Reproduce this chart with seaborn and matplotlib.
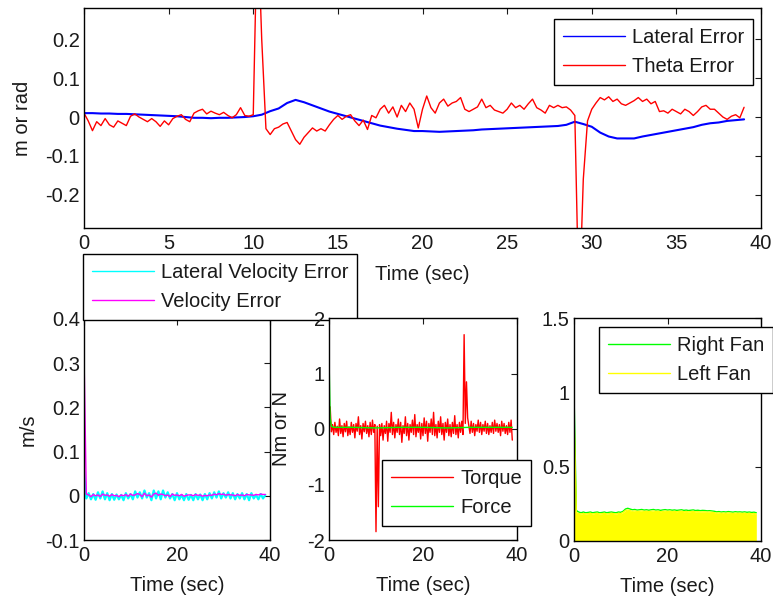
import numpy as np
import matplotlib
matplotlib.use("Agg")
import matplotlib.pyplot as plt
from matplotlib.ticker import FuncFormatter
import seaborn as sns

# ---------------- data ----------------
# top panel: samples every 0.25 s from 0 to 39 s
theta_error = [
    0.010, -0.010, -0.035, -0.012,
    -0.022, -0.004, -0.020, -0.026,
    -0.010, -0.016, -0.022, 0.002,
    0.008, 0.000, -0.006, -0.012,
    -0.004, -0.012, -0.024, -0.010,
    -0.020, -0.004, 0.002, 0.006,
    -0.006, -0.012, 0.010, 0.016,
    0.020, 0.008, 0.015, 0.010,
    0.006, 0.012, 0.004, -0.002,
    0.006, 0.024, 0.004, 0.002,
    0.006, 0.520, 0.200, -0.030,
    -0.045, -0.030, -0.026, -0.018,
    -0.014, -0.036, -0.058, -0.070,
    -0.052, -0.040, -0.028, -0.036,
    -0.030, -0.036, -0.020, -0.006,
    0.004, -0.006, 0.002, 0.006,
    -0.010, -0.022, -0.008, -0.032,
    0.004, -0.002, 0.020, 0.030,
    0.010, 0.026, 0.000, 0.030,
    0.014, 0.036, 0.020, -0.028,
    0.020, 0.054, 0.024, 0.010,
    0.036, 0.046, 0.028, 0.036,
    0.040, 0.050, 0.020, 0.014,
    0.020, 0.026, 0.046, 0.024,
    0.030, 0.018, 0.014, 0.010,
    0.020, 0.036, 0.024, 0.030,
    0.020, 0.034, 0.046, 0.024,
    0.018, 0.010, 0.030, 0.024,
    0.030, 0.024, 0.026, 0.018,
    0.004, -0.500, -0.160, -0.010,
    0.020, 0.036, 0.050, 0.044,
    0.052, 0.040, 0.046, 0.034,
    0.030, 0.036, 0.042, 0.050,
    0.040, 0.046, 0.034, 0.040,
    0.014, 0.016, 0.010, 0.020,
    0.014, 0.008, 0.020, 0.014,
    0.004, 0.014, 0.026, 0.030,
    0.020, 0.020, 0.010, 0.000,
    -0.006, 0.002, 0.006, -0.002,
    0.025,
]

# lateral error, every 0.5 s
lateral_error = [
    0.010, 0.010, 0.009, 0.009, 0.008, 0.008, 0.007, 0.006,
    0.005, 0.004, 0.003, 0.002, 0.000, -0.002, -0.002, -0.003,
    -0.002, -0.002, -0.001, 0.000, 0.002, 0.006, 0.015, 0.022,
    0.036, 0.044, 0.038, 0.030, 0.022, 0.014, 0.008, 0.002,
    -0.004, -0.010, -0.016, -0.022, -0.026, -0.030, -0.033, -0.036,
    -0.036, -0.037, -0.038, -0.037, -0.036, -0.035, -0.034, -0.032,
    -0.031, -0.030, -0.029, -0.028, -0.027, -0.026, -0.025, -0.024,
    -0.023, -0.020, -0.012, -0.018, -0.025, -0.040, -0.050, -0.055,
    -0.055, -0.055, -0.050, -0.046, -0.042, -0.038, -0.034, -0.030,
    -0.026, -0.020, -0.016, -0.014, -0.010, -0.008, -0.006,
]

# velocity errors, every 0.5 s
lat_vel_error = [
    0.055, -0.006, 0.006, -0.008, 0.004, -0.009, 0.008, -0.006,
    0.010, -0.008, 0.006, -0.010, 0.004, -0.009, 0.003, -0.008,
    0.002, -0.010, 0.006, -0.006, 0.004, -0.008, 0.010, -0.004,
    0.008, -0.006, 0.012, -0.004, 0.006, -0.010, 0.012, -0.006,
    0.010, -0.008, 0.012, -0.004, 0.008, -0.006, 0.004, -0.010,
    0.006, -0.008, 0.002, -0.010, 0.004, -0.009, 0.002, -0.010,
    0.004, -0.008, 0.003, -0.010, 0.004, -0.008, 0.006, -0.006,
    0.008, -0.004, 0.010, -0.006, 0.006, -0.004, 0.008, -0.006,
    0.006, -0.008, 0.004, -0.006, 0.006, -0.008, 0.004, -0.010,
    0.006, -0.006, 0.002, -0.008, 0.004, -0.006, 0.002,
]
vel_error = [
    0.320, 0.004, 0.002, -0.002, 0.003, 0.000, 0.002, -0.002,
    0.004, 0.001, 0.002, -0.001, 0.003, 0.000, 0.001, -0.002,
    0.002, 0.000, 0.003, -0.001, 0.004, 0.001, 0.002, 0.005,
    0.003, -0.002, 0.006, 0.000, 0.002, -0.003, 0.004, 0.006,
    0.001, 0.004, 0.003, 0.000, 0.002, -0.002, 0.004, 0.001,
    0.002, 0.000, 0.003, -0.001, 0.001, 0.002, 0.002, 0.000,
    0.003, 0.001, 0.002, -0.001, 0.001, 0.000, 0.002, 0.001,
    0.004, 0.002, 0.005, 0.003, 0.004, 0.001, 0.003, 0.002,
    0.002, 0.000, 0.003, 0.001, 0.002, 0.000, 0.003, 0.002,
    0.002, 0.001, 0.003, 0.002, 0.004, 0.003, 0.003,
]

# torque, every 0.25 s
torque = [
    -0.10, 0.40, -0.05, 0.08,
    -0.10, 0.12, -0.06, 0.05,
    -0.12, 0.18, -0.08, 0.06,
    -0.14, 0.10, -0.05, 0.14,
    -0.12, 0.04, -0.10, 0.12,
    -0.06, 0.08, -0.16, 0.10,
    -0.04, 0.22, -0.10, 0.06,
    -0.18, 0.10, -0.05, 0.14,
    -0.08, 0.06, -0.14, 0.12,
    -0.10, 0.16, -0.06, 0.08,
    -1.85, 0.05, -1.40, 0.08,
    -0.12, 0.10, -0.20, 0.06,
    -0.08, 0.14, -0.22, 0.10,
    -0.06, 0.30, -0.10, 0.12,
    -0.16, 0.08, -0.06, 0.18,
    -0.10, 0.12, -0.24, 0.06,
    -0.08, 0.22, -0.12, 0.10,
    -0.20, 0.08, -0.06, 0.16,
    -0.10, 0.26, -0.14, 0.08,
    -0.06, 0.12, -0.18, 0.10,
    -0.12, 0.20, -0.08, 0.14,
    -0.22, 0.10, -0.06, 0.18,
    -0.10, 0.30, -0.12, 0.08,
    -0.16, 0.14, -0.06, 0.22,
    -0.10, 0.10, -0.20, 0.12,
    -0.06, 0.18, -0.12, 0.08,
    -0.14, 0.12, -0.08, 0.24,
    -0.10, 0.08, -0.16, 0.12,
    -0.06, 0.14, -0.10, 1.70,
    0.10, 0.85, 0.20, 0.06,
    -0.08, 0.14, -0.06, 0.10,
    -0.12, 0.08, -0.04, 0.16,
    -0.06, 0.12, -0.10, 0.08,
    -0.04, 0.14, -0.08, 0.10,
    -0.10, 0.06, -0.06, 0.12,
    -0.08, 0.16, -0.04, 0.10,
    -0.06, 0.08, -0.12, 0.14,
    -0.04, 0.10, -0.08, 0.06,
    -0.10, 0.12, -0.06, 0.16,
    -0.20,
]
force_time = [0.0, 0.25, 0.5, 1.0, 5.0, 10.0, 15.0, 20.0, 25.0, 30.0, 35.0, 39.0]
force = [1.30, 0.20, 0.05, 0.03, 0.03, 0.02, 0.03, 0.03, 0.02, 0.03, 0.03, 0.03]

# fan commands, every 0.5 s
right_fan = [
    1.000, 0.205, 0.195, 0.190, 0.195, 0.190, 0.192, 0.195,
    0.190, 0.193, 0.195, 0.190, 0.192, 0.195, 0.190, 0.193,
    0.195, 0.192, 0.190, 0.195, 0.193, 0.200, 0.215, 0.220,
    0.215, 0.210, 0.212, 0.208, 0.210, 0.212, 0.208, 0.210,
    0.207, 0.210, 0.212, 0.208, 0.210, 0.206, 0.209, 0.211,
    0.208, 0.210, 0.207, 0.209, 0.206, 0.208, 0.210, 0.206,
    0.208, 0.205, 0.207, 0.209, 0.205, 0.207, 0.204, 0.206,
    0.205, 0.203, 0.204, 0.202, 0.200, 0.196, 0.198, 0.195,
    0.197, 0.195, 0.198, 0.196, 0.194, 0.197, 0.195, 0.196,
    0.194, 0.196, 0.193, 0.195, 0.192, 0.194, 0.190,
]
left_fan = [
    0.850, 0.190, 0.185, 0.182, 0.185, 0.182, 0.184, 0.186,
    0.182, 0.185, 0.186, 0.182, 0.184, 0.186, 0.182, 0.184,
    0.186, 0.184, 0.182, 0.186, 0.184, 0.192, 0.205, 0.208,
    0.204, 0.200, 0.202, 0.199, 0.200, 0.202, 0.199, 0.200,
    0.198, 0.200, 0.202, 0.199, 0.200, 0.197, 0.199, 0.201,
    0.199, 0.200, 0.198, 0.199, 0.197, 0.199, 0.200, 0.197,
    0.198, 0.196, 0.198, 0.199, 0.196, 0.197, 0.195, 0.196,
    0.196, 0.194, 0.195, 0.193, 0.191, 0.187, 0.189, 0.186,
    0.188, 0.186, 0.189, 0.187, 0.185, 0.188, 0.186, 0.187,
    0.185, 0.187, 0.184, 0.186, 0.183, 0.185, 0.181,
]

t_fine = np.arange(len(theta_error)) * 0.25
t_half = np.arange(len(lateral_error)) * 0.5
t_torque = np.arange(len(torque)) * 0.25

# ---------------- style ----------------
sns.set_style("white")
plt.rcParams["font.family"] = ["Liberation Sans", "DejaVu Sans"]
plt.rcParams.update({
    "font.size": 14.5,
    "axes.unicode_minus": False,
    "axes.edgecolor": "black",
    "axes.linewidth": 1.0,
    "xtick.direction": "in",
    "ytick.direction": "in",
    "xtick.top": True,
    "ytick.right": True,
    "xtick.major.size": 4,
    "ytick.major.size": 4,
    "xtick.major.width": 0.8,
    "ytick.major.width": 0.8,
    "xtick.major.pad": 4,
    "ytick.major.pad": 3,
    "xtick.labelsize": 14.5,
    "ytick.labelsize": 14.5,
    "axes.labelsize": 14.5,
    "xtick.color": "#1a1a1a",
    "ytick.color": "#1a1a1a",
    "text.color": "#1a1a1a",
    "axes.labelcolor": "#1a1a1a",
})

W, H = 773, 603
fig = plt.figure(figsize=(W / 100, H / 100), dpi=100)


def px_axes(left, top, right, bottom):
    return fig.add_axes([left / W, 1 - bottom / H, (right - left) / W, (bottom - top) / H])


fmt = FuncFormatter(lambda v, p: "%g" % round(v, 6))

LEG = dict(frameon=True, fancybox=False, framealpha=1, edgecolor="black",
           fontsize=14.5, handlelength=3.1, handletextpad=0.35, borderpad=0.43,
           labelspacing=0.52, borderaxespad=0, bbox_transform=fig.transFigure)


def finish(ax):
    ax.tick_params(which="both", top=True, right=True, direction="in")
    ax.yaxis.set_major_formatter(fmt)
    ax.xaxis.set_major_formatter(fmt)
    for s in ax.spines.values():
        s.set_visible(True)
        s.set_color("black")


def add_legend(ax, loc, anchor):
    leg = ax.legend(loc=loc, bbox_to_anchor=anchor, **LEG)
    for line in leg.get_lines():
        line.set_linewidth(1.0)
    return leg


# ---- top: lateral and heading errors ----
ax0 = px_axes(84, 8, 761, 228)
sns.lineplot(x=t_half, y=lateral_error, ax=ax0, color="#0000ff", lw=1.5, label="Lateral Error")
sns.lineplot(x=t_fine, y=theta_error, ax=ax0, color="#ff0000", lw=1.0, label="Theta Error")
ax0.set_xlim(0, 40)
ax0.set_ylim(-0.285, 0.28)
ax0.set_xticks(np.arange(0, 41, 5))
ax0.set_yticks([-0.2, -0.1, 0, 0.1, 0.2])
ax0.set_xlabel("Time (sec)")
ax0.set_ylabel("m or rad")
ax0.xaxis.set_label_coords(0.5, -0.17)
ax0.yaxis.set_label_coords(-0.077, 0.5)
finish(ax0)
add_legend(ax0, "upper right", (753 / W, 1 - 19 / H))

# ---- bottom left: velocity errors ----
ax1 = px_axes(84, 319, 270, 540)
sns.lineplot(x=t_half, y=lat_vel_error, ax=ax1, color="#00ffff", lw=1.6, label="Lateral Velocity Error")
sns.lineplot(x=t_half, y=vel_error, ax=ax1, color="#ff00ff", lw=1.0, label="Velocity Error")
ax1.set_xlim(0, 40)
ax1.set_ylim(-0.1, 0.4)
ax1.set_xticks([0, 20, 40])
ax1.set_yticks([-0.1, 0, 0.1, 0.2, 0.3, 0.4])
ax1.set_xlabel("Time (sec)")
ax1.set_ylabel("m/s")
ax1.xaxis.set_label_coords(0.5, -0.163)
ax1.yaxis.set_label_coords(-0.25, 0.5)
finish(ax1)
add_legend(ax1, "upper left", (83 / W, 1 - 254 / H))

# ---- bottom right: fan commands ----
ax3 = px_axes(574, 318, 761, 541)
sns.lineplot(x=t_half, y=right_fan, ax=ax3, color="#00ff00", lw=1.0, label="Right Fan")
ax3.fill_between(t_half, 0, left_fan, color="#ffff00", lw=0)
sns.lineplot(x=t_half, y=left_fan, ax=ax3, color="#ffff00", lw=1.0, label="Left Fan")
ax3.set_xlim(0, 40)
ax3.set_ylim(0, 1.5)
ax3.set_xticks([0, 20, 40])
ax3.set_yticks([0, 0.5, 1, 1.5])
ax3.set_xlabel("Time (sec)")
ax3.xaxis.set_label_coords(0.5, -0.163)
finish(ax3)
add_legend(ax3, "upper left", (599 / W, 1 - 327 / H))

# ---- bottom middle: torque and force ----
ax2 = px_axes(329, 318, 517, 540)
sns.lineplot(x=t_torque, y=torque, ax=ax2, color="#ff0000", lw=1.0, label="Torque")
sns.lineplot(x=force_time, y=force, ax=ax2, color="#00ff00", lw=1.0, label="Force")
ax2.set_xlim(0, 40)
ax2.set_ylim(-2, 2)
ax2.set_xticks([0, 20, 40])
ax2.set_yticks([-2, -1, 0, 1, 2])
ax2.set_xlabel("Time (sec)")
ax2.set_ylabel("Nm or N")
ax2.xaxis.set_label_coords(0.5, -0.163)
ax2.yaxis.set_label_coords(-0.2, 0.5)
finish(ax2)
add_legend(ax2, "upper left", (382 / W, 1 - 460 / H))

fig.savefig("out.png", dpi=100)
